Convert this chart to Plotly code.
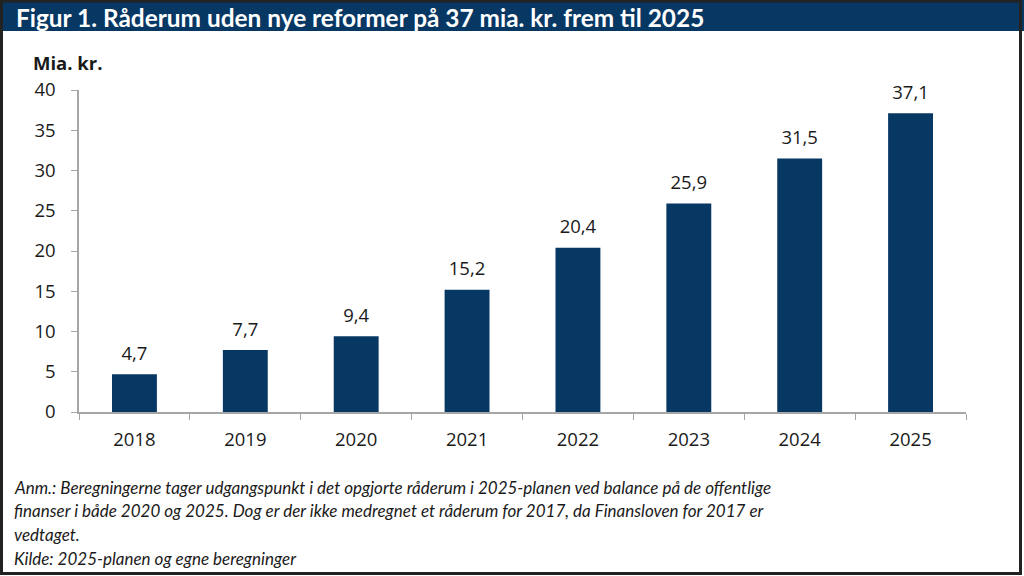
import plotly.graph_objects as go

years = ["2018", "2019", "2020", "2021", "2022", "2023", "2024", "2025"]
values = [4.7, 7.7, 9.4, 15.2, 20.4, 25.9, 31.5, 37.1]
labels = ["4,7", "7,7", "9,4", "15,2", "20,4", "25,9", "31,5", "37,1"]
y_ticks = [0, 5, 10, 15, 20, 25, 30, 35, 40]

title = "Figur 1. Råderum uden nye reformer på 37 mia. kr. frem til 2025"
unit = "Mia. kr."
note_lines = [
    "Anm.: Beregningerne tager udgangspunkt i det opgjorte råderum i 2025-planen ved balance på de offentlige",
    "finanser i både 2020 og 2025. Dog er der ikke medregnet et råderum for 2017, da Finansloven for 2017 er",
    "vedtaget.",
    "Kilde: 2025-planen og egne beregninger",
]

W, H = 1024, 576
L, R, T, B = 79, 58, 90, 164
TXT = "#1a1a1a"

fig = go.Figure()
fig.add_trace(go.Bar(
    x=years, y=values,
    marker=dict(color="#073763", line=dict(width=0)),
    hoverinfo="skip",
))
fig.add_trace(go.Scatter(
    x=years, y=values, text=labels, mode="markers+text",
    textposition="top center",
    marker=dict(size=14, opacity=0),
    textfont=dict(family="Open Sans", size=18.5, color=TXT),
    hoverinfo="skip", cliponaxis=False,
))

fig.update_layout(
    width=W, height=H,
    margin=dict(l=L, r=R, t=T, b=B),
    paper_bgcolor="white", plot_bgcolor="white",
    bargap=0.595,
    showlegend=False,
    xaxis=dict(
        type="category",
        showline=True, linecolor="#a6a6a6", linewidth=1.5,
        ticks="outside", tickson="boundaries", ticklen=6, tickcolor="#a6a6a6",
        tickfont=dict(family="Open Sans", size=18.5, color=TXT),
        ticklabelstandoff=10, tickangle=0,
        showgrid=False, fixedrange=True,
    ),
    yaxis=dict(
        range=[0, 40], tickvals=y_ticks,
        showline=True, linecolor="#a6a6a6", linewidth=1.5,
        ticks="outside", ticklen=6, tickcolor="#a6a6a6",
        tickfont=dict(family="Open Sans", size=18.5, color=TXT),
        ticklabelstandoff=12,
        showgrid=False, zeroline=False, fixedrange=True,
    ),
)

pw, ph = W - L - R, H - T - B


def px(xp):
    return (xp - L) / pw


def py(yp):
    return (H - B - yp) / ph


shapes = [
    dict(type="rect", xref="paper", yref="paper",
         x0=px(0), x1=px(W), y0=py(31), y1=py(0),
         fillcolor="#073763", line=dict(width=0), layer="below"),
    dict(type="rect", xref="paper", yref="paper",
         x0=px(1.5), x1=px(1020.5), y0=py(573.5), y1=py(1),
         fillcolor="rgba(0,0,0,0)", line=dict(color="#222222", width=3)),
]
fig.update_layout(shapes=shapes)

annotations = [
    dict(text="<b>" + title + "</b>", x=px(14), y=py(17), xref="paper", yref="paper",
         xanchor="left", yanchor="middle", showarrow=False,
         font=dict(family="Lato", size=24.4, color="white")),
    dict(text="<b>" + unit + "</b>", x=px(31), y=py(62), xref="paper", yref="paper",
         xanchor="left", yanchor="middle", showarrow=False,
         font=dict(family="Open Sans", size=18.5, color=TXT)),
]
for i, line in enumerate(note_lines):
    annotations.append(dict(
        text="<i>" + line + "</i>", x=px(12), y=py(487 + 23.7 * i),
        xref="paper", yref="paper", xanchor="left", yanchor="middle",
        showarrow=False, font=dict(family="Lato", size=17, color=TXT)))
fig.update_layout(annotations=annotations)

fig.write_html("out.html", config={"displayModeBar": False},
               post_script="document.body.style.margin='0';document.body.style.padding='0';")
